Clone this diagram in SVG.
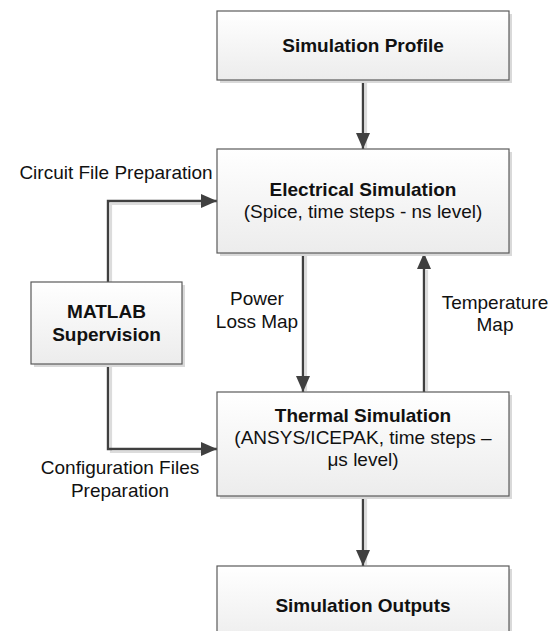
<svg xmlns="http://www.w3.org/2000/svg" width="559" height="631" viewBox="0 0 559 631">
<style>
.box{fill:url(#g);stroke:#5a5a5a;stroke-width:1.2}
.sh{fill:#d9d9d9}
.t{font-family:"Liberation Sans",Arial,sans-serif;font-size:19px;fill:#111;text-anchor:middle}
.b{font-weight:bold}
.l{fill:none;stroke:#404040;stroke-width:2.4}
.ls{fill:none;stroke:#dcdcdc;stroke-width:2.2}
</style>
<defs>
<linearGradient id="g" x1="0" y1="0" x2="0" y2="1">
<stop offset="0" stop-color="#ffffff"/>
<stop offset="1" stop-color="#ececec"/>
</linearGradient>
<marker id="a" markerWidth="16" markerHeight="14" refX="16" refY="7" orient="auto" markerUnits="userSpaceOnUse">
<path d="M0,0 L16,7 L0,14 Z" fill="#404040"/>
</marker>
</defs>
<rect width="559" height="631" fill="#ffffff"/>
<g id="connectors">
<path class="ls" d="M366,83 V148"/>
<path class="ls" d="M306,256 V391"/>
<path class="ls" d="M427,391 V270"/>
<path class="ls" d="M366,499 V565"/>
<path class="ls" d="M111,282 V204 H203"/>
<path class="ls" d="M111,366 V452 H203"/>
<path class="l" d="M363,80 V149" marker-end="url(#a)"/>
<path class="l" d="M303,253 V392" marker-end="url(#a)"/>
<path class="l" d="M424,392 V253" marker-end="url(#a)"/>
<path class="l" d="M363,496 V566" marker-end="url(#a)"/>
<path class="l" d="M108,282 V201 H217" marker-end="url(#a)"/>
<path class="l" d="M108,364 V449 H217" marker-end="url(#a)"/>
</g>
<g id="profile">
<rect class="sh" x="220" y="14" width="292" height="69"/>
<rect class="box" x="217" y="11" width="292" height="69"/>
<text class="t b" x="363" y="52">Simulation Profile</text>
</g>
<g id="electrical">
<rect class="sh" x="220" y="152" width="292" height="104"/>
<rect class="box" x="217" y="149" width="292" height="104"/>
<text class="t b" x="363" y="196">Electrical Simulation</text>
<text class="t" x="363" y="218">(Spice, time steps - ns level)</text>
</g>
<g id="matlab">
<rect class="sh" x="34" y="285" width="151" height="82"/>
<rect class="box" x="31" y="282" width="151" height="82"/>
<text class="t b" x="106.5" y="318">MATLAB</text>
<text class="t b" x="106.5" y="341">Supervision</text>
</g>
<g id="thermal">
<rect class="sh" x="220" y="395" width="292" height="104"/>
<rect class="box" x="217" y="392" width="292" height="104"/>
<text class="t b" x="363" y="422">Thermal Simulation</text>
<text class="t" x="363" y="444">(ANSYS/ICEPAK, time steps –</text>
<text class="t" x="363" y="466">μs level)</text>
</g>
<g id="outputs">
<rect class="sh" x="220" y="569" width="292" height="80"/>
<rect class="box" x="217" y="566" width="292" height="80"/>
<text class="t b" x="363" y="612">Simulation Outputs</text>
</g>
<g id="labels">
<text class="t" x="116" y="179">Circuit File Preparation</text>
<text class="t" x="257" y="305">Power</text>
<text class="t" x="257" y="328">Loss Map</text>
<text class="t" x="495" y="309">Temperature</text>
<text class="t" x="495" y="331">Map</text>
<text class="t" x="120" y="474">Configuration Files</text>
<text class="t" x="120" y="497">Preparation</text>
</g>
</svg>
